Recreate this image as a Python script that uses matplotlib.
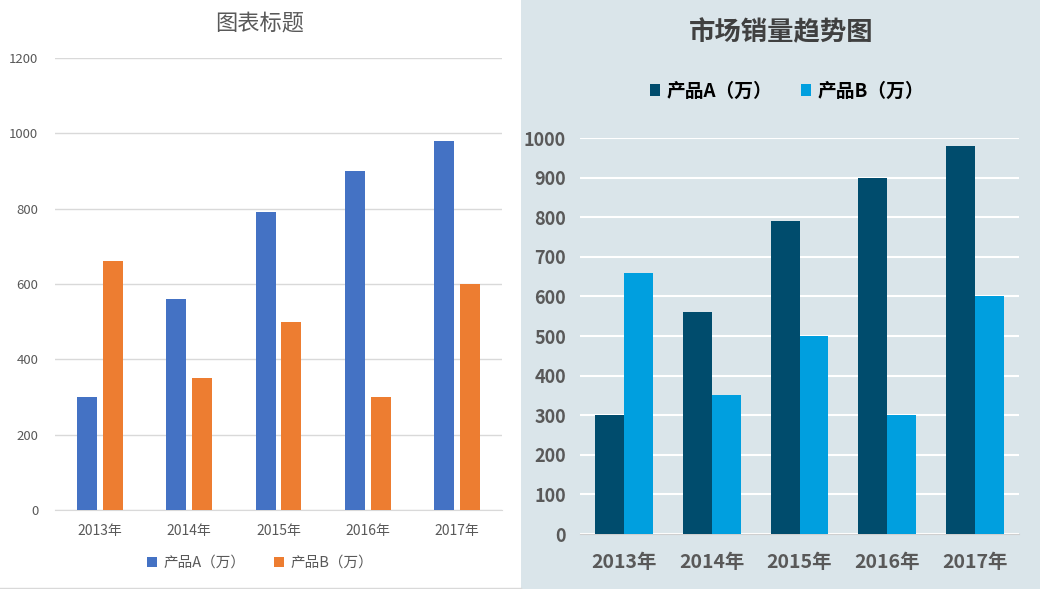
import numpy as np
import matplotlib.pyplot as plt
from matplotlib.patches import Rectangle
from matplotlib.lines import Line2D

plt.rcParams['font.family'] = ['Noto Sans CJK SC', 'DejaVu Sans']

years = ['2013年', '2014年', '2015年', '2016年', '2017年']
prod_a = [300, 560, 790, 900, 980]
prod_b = [660, 350, 500, 300, 600]
label_a = '产品A（万）'
label_b = '产品B（万）'

W, H = 1040, 589
fig = plt.figure(figsize=(W / 100, H / 100), dpi=100)
fig.patch.set_facecolor('white')

# right panel background
fig.patches.append(Rectangle((521 / W, 0), 1 - 521 / W, 1, transform=fig.transFigure,
                             facecolor='#DAE5EA', edgecolor='none', zorder=-10))
fig.lines.append(Line2D([0, 521 / W], [1.5 / H, 1.5 / H], transform=fig.transFigure,
                        color='#D9D9D9', lw=1))


def px_axes(x0, x1, ytop, ybot):
    return fig.add_axes([x0 / W, (H - ybot) / H, (x1 - x0) / W, (ybot - ytop) / H])


x = np.arange(len(years))

# ---- left chart ----
ax1 = px_axes(55, 502, 58, 510)
ax1.set_facecolor('none')
ax1.bar(x - 0.145, prod_a, width=0.224, color='#4472C4', label=label_a, zorder=3)
ax1.bar(x + 0.145, prod_b, width=0.224, color='#ED7D31', label=label_b, zorder=3)
ax1.set_xlim(-0.5, 4.5)
ax1.set_ylim(0, 1200)
ax1.set_yticks(range(0, 1201, 200))
ax1.set_xticks(x, years)
ax1.grid(axis='y', color='#D9D9D9', lw=1, zorder=0)
for s in ['top', 'right', 'left']:
    ax1.spines[s].set_visible(False)
ax1.spines['bottom'].set_color('#D9D9D9')
ax1.tick_params(length=0, colors='#595959', labelsize=9.5)
ax1.tick_params(axis='y', pad=12)
ax1.tick_params(axis='x', pad=10, labelsize=10)
fig.text(260 / W, 1 - 23 / H, '图表标题', ha='center', va='center',
         fontsize=16, color='#595959')
fig.legend(handles=ax1.get_legend_handles_labels()[0], labels=[label_a, label_b],
           loc='center', bbox_to_anchor=(260 / W, 1 - 563 / H), ncol=2, frameon=False,
           fontsize=10.5, labelcolor='#595959', handlelength=0.7, handleheight=0.7,
           handletextpad=0.4, columnspacing=2.0)

# ---- right chart ----
ax2 = px_axes(580, 1019, 138, 534)
ax2.set_facecolor('none')
ax2.bar(x - 0.165, prod_a, width=0.33, color='#004C6D', label=label_a, zorder=3)
ax2.bar(x + 0.165, prod_b, width=0.33, color='#009FDF', label=label_b, zorder=3)
ax2.set_xlim(-0.5, 4.5)
ax2.set_ylim(0, 1000)
ax2.set_yticks(range(0, 1001, 100))
ax2.set_xticks(x, years)
ax2.grid(axis='y', color='white', lw=1.5, zorder=0)
for s in ['top', 'right', 'left']:
    ax2.spines[s].set_visible(False)
ax2.spines['bottom'].set_color('#CFCFCF')
ax2.tick_params(length=0, colors='#595959')
ax2.tick_params(axis='y', pad=10, labelsize=13)
ax2.tick_params(axis='x', pad=14, labelsize=14)
for lab in ax2.get_xticklabels() + ax2.get_yticklabels():
    lab.set_fontweight('bold')
fig.text(781 / W, 1 - 33 / H, '市场销量趋势图', ha='center', va='center',
         fontsize=19, fontweight='bold', color='#404040')
fig.legend(handles=ax2.get_legend_handles_labels()[0], labels=[label_a, label_b],
           loc='center', bbox_to_anchor=(787 / W, 1 - 91 / H), ncol=2, frameon=False,
           prop={'size': 13.5, 'weight': 'bold'}, labelcolor='black',
           handlelength=0.55, handleheight=0.55, handletextpad=0.35, columnspacing=1.5)

fig.savefig('out.png', dpi=100)
